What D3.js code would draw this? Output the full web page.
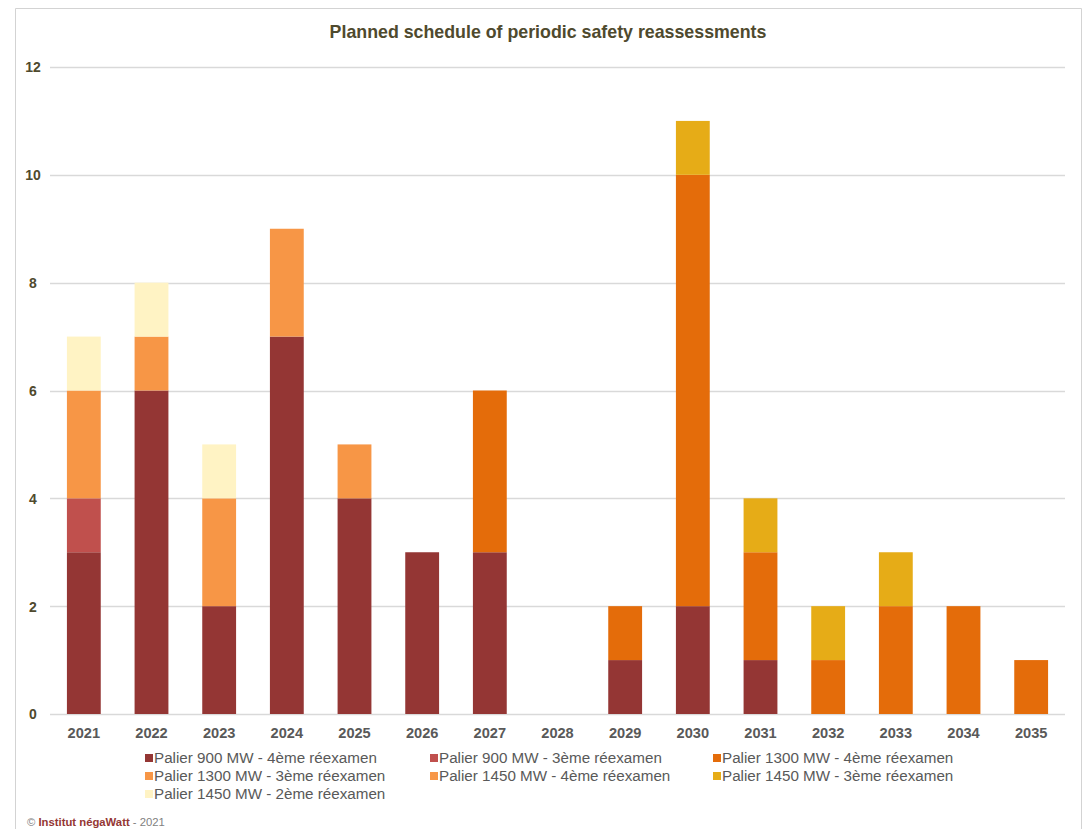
<!DOCTYPE html>
<html>
<head>
<meta charset="utf-8">
<script src="https://cdn.jsdelivr.net/npm/d3@7"></script>
<style>
  html, body { margin: 0; padding: 0; background: #fff; }
  svg { display: block; }
</style>
</head>
<body>
<svg id="chart" width="1084" height="829"></svg>
<script>
// Years on the x axis
const years = ["2021","2022","2023","2024","2025","2026","2027","2028","2029","2030","2031","2032","2033","2034","2035"];

// Number of reassessments per year, one array per reactor fleet / review
const palier900_4 = [3, 6, 2, 7, 4, 3, 3, 0, 1, 2, 1, 0, 0, 0, 0];
const palier900_3 = [1, 0, 0, 0, 0, 0, 0, 0, 0, 0, 0, 0, 0, 0, 0];
const palier1300_4 = [0, 0, 0, 0, 0, 0, 3, 0, 1, 8, 2, 1, 2, 2, 1];
const palier1300_3 = [2, 1, 2, 2, 1, 0, 0, 0, 0, 0, 0, 0, 0, 0, 0];
const palier1450_4 = [0, 0, 0, 0, 0, 0, 0, 0, 0, 0, 0, 0, 0, 0, 0];
const palier1450_3 = [0, 0, 0, 0, 0, 0, 0, 0, 0, 1, 1, 1, 1, 0, 0];
const palier1450_2 = [1, 1, 1, 0, 0, 0, 0, 0, 0, 0, 0, 0, 0, 0, 0];

const seriesNames = [
  "Palier 900 MW - 4ème réexamen",
  "Palier 900 MW - 3ème réexamen",
  "Palier 1300 MW - 4ème réexamen",
  "Palier 1300 MW - 3ème réexamen",
  "Palier 1450 MW - 4ème réexamen",
  "Palier 1450 MW - 3ème réexamen",
  "Palier 1450 MW - 2ème réexamen"
];
const seriesValues = [palier900_4, palier900_3, palier1300_4, palier1300_3, palier1450_4, palier1450_3, palier1450_2];
const seriesColors = ["#943634", "#C0504D", "#E46C0A", "#F79646", "#F79646", "#E6AC17", "#FFF3C4"];

const yTicks = [0, 2, 4, 6, 8, 10, 12];

const svg = d3.select("#chart");

// outer frame
svg.append("path")
  .attr("d", "M15.5,829 V8.5 H1081.5 V829")
  .attr("fill", "none")
  .attr("stroke", "#d3d3d3")
  .attr("stroke-width", 1);

const plot = { left: 50, right: 1065, top: 67, bottom: 714 };

const x = d3.scaleBand().domain(years).range([plot.left, plot.right]).paddingInner(0.5).paddingOuter(0.25);
const y = d3.scaleLinear().domain([0, 12]).range([plot.bottom, plot.top]);

// title
svg.append("text")
  .attr("x", 548).attr("y", 38)
  .attr("text-anchor", "middle")
  .attr("font-family", "Liberation Sans, Arial, sans-serif")
  .attr("font-weight", "bold")
  .attr("font-size", 17.8)
  .attr("fill", "#4F4A2E")
  .text("Planned schedule of periodic safety reassessments");

// gridlines
svg.append("g")
  .selectAll("line")
  .data(yTicks)
  .join("line")
  .attr("x1", plot.left).attr("x2", plot.right)
  .attr("y1", d => Math.round(y(d)) + 0.5).attr("y2", d => Math.round(y(d)) + 0.5)
  .attr("stroke", "#d9d9d9")
  .attr("stroke-width", 1.3);

// y axis labels
const yAxis = d3.axisLeft(y).tickValues(yTicks).tickSize(0).tickPadding(0);
svg.append("g")
  .attr("transform", `translate(40,0)`)
  .call(yAxis)
  .call(g => g.select(".domain").remove())
  .call(g => g.selectAll("text")
    .attr("font-family", "Liberation Sans, Arial, sans-serif")
    .attr("font-weight", "bold")
    .attr("font-size", 14)
    .attr("fill", "#4F4A2E")
    .attr("text-anchor", "middle")
    .attr("x", -7)
    .attr("dy", "0.35em"));

// stacked bars
const table = years.map((yr, i) => {
  const row = { year: yr };
  seriesNames.forEach((n, k) => { row[n] = seriesValues[k][i]; });
  return row;
});
const stacked = d3.stack().keys(seriesNames)(table);

svg.append("g")
  .selectAll("g")
  .data(stacked)
  .join("g")
  .attr("fill", (d, i) => seriesColors[i])
  .selectAll("rect")
  .data(d => d.filter(p => p[1] - p[0] > 0))
  .join("rect")
  .attr("x", d => x(d.data.year))
  .attr("width", x.bandwidth())
  .attr("y", d => y(d[1]))
  .attr("height", d => y(d[0]) - y(d[1]));

// x axis labels
const xAxis = d3.axisBottom(x).tickSize(0).tickPadding(0);
svg.append("g")
  .attr("transform", `translate(0,${plot.bottom})`)
  .call(xAxis)
  .call(g => g.select(".domain").remove())
  .call(g => g.selectAll("text")
    .attr("font-family", "Liberation Sans, Arial, sans-serif")
    .attr("font-weight", "bold")
    .attr("font-size", 14.6)
    .attr("fill", "#595959")
    .attr("y", 24)
    .attr("dy", 0));

// legend
const legendCols = [145, 430, 713];
const legendRows = [758, 776, 794];
const legend = svg.append("g");
seriesNames.forEach((n, i) => {
  const cx = legendCols[i % 3], cy = legendRows[Math.floor(i / 3)];
  legend.append("rect")
    .attr("x", cx).attr("y", cy - 4)
    .attr("width", 8).attr("height", 8)
    .attr("fill", seriesColors[i]);
  legend.append("text")
    .attr("x", cx + 9).attr("y", cy + 5)
    .attr("font-family", "Liberation Sans, Arial, sans-serif")
    .attr("font-size", 15.2)
    .attr("fill", "#595959")
    .text(n);
});

// credit line
const credit = svg.append("text")
  .attr("x", 27).attr("y", 826)
  .attr("font-family", "Liberation Sans, Arial, sans-serif")
  .attr("font-size", 11.3)
  .attr("fill", "#7f7f7f");
credit.append("tspan").text("© ");
credit.append("tspan").attr("font-weight", "bold").attr("fill", "#943634").text("Institut négaWatt");
credit.append("tspan").text(" - 2021");
</script>
</body>
</html>
